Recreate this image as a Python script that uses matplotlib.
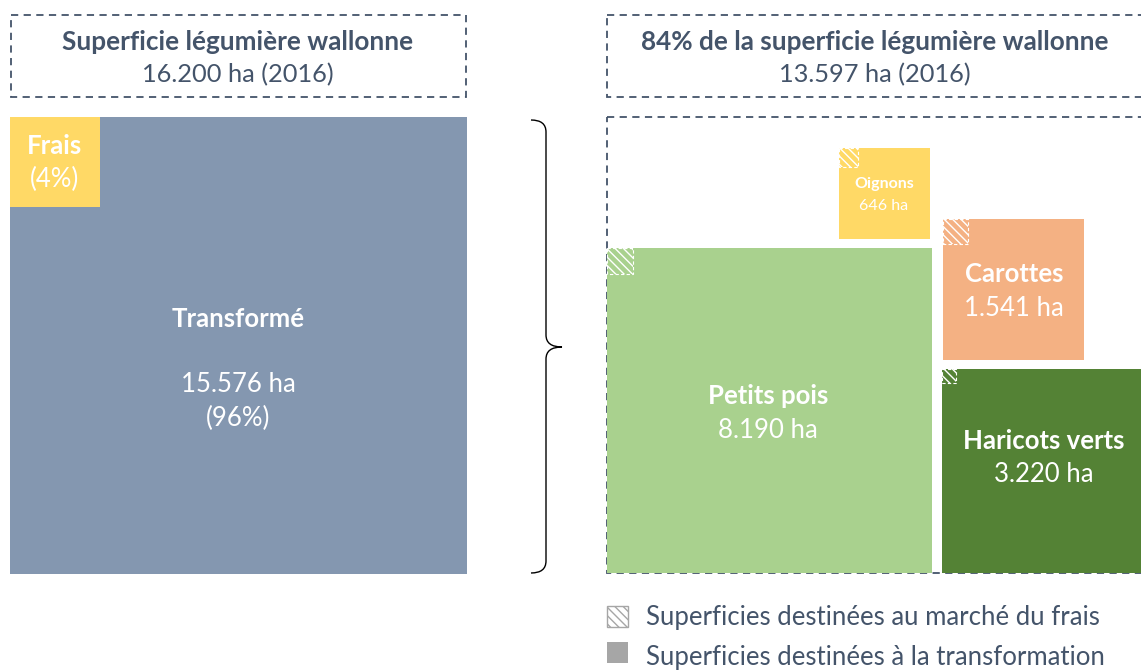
import numpy as np
import matplotlib.pyplot as plt
from matplotlib.patches import Rectangle, PathPatch
from matplotlib.path import Path

plt.rcParams['font.family'] = ['Lato', 'DejaVu Sans']
plt.rcParams['hatch.linewidth'] = 1.0

# données (ha, 2016)
total_wallonie = 16200
transforme = 15576
frais = total_wallonie - transforme
total_legumes = 13597

legumes = ['Petits pois', 'Haricots verts', 'Carottes', 'Oignons']
superficies = [8190, 3220, 1541, 646]
superficies_frais = [52, 15, 48, 28]  # estimé d'après les petits carrés hachurés
couleurs = ['#A9D18E', '#548235', '#F4B183', '#FFD966']

TXT = '#44546A'
SCALE = 457 / np.sqrt(total_wallonie)  # px par sqrt(ha)


def side(v):
    return SCALE * np.sqrt(v)


fig = plt.figure(figsize=(11.41, 6.70), dpi=100)
ax = fig.add_axes([0, 0, 1, 1])
ax.set_xlim(0, 1141)
ax.set_ylim(670, 0)
ax.axis('off')


def dashed_box(x0, y0, x1, y1):
    ax.add_patch(Rectangle((x0, y0), x1 - x0, y1 - y0, fill=False, edgecolor=TXT,
                           lw=1.3, ls=(0, (4, 3))))


def hatch_square(x, y, s):
    ax.add_patch(Rectangle((x, y), s, s, facecolor='none', edgecolor='white',
                           hatch='\\\\\\\\', lw=0, zorder=4))
    ax.add_patch(Rectangle((x, y), s, s, fill=False, edgecolor='white',
                           lw=0.8, ls=(0, (3, 2)), zorder=4))


# --- partie gauche
dashed_box(11, 15, 466, 97)
ax.text(238, 42, 'Superficie légumière wallonne', ha='center', va='center',
        fontsize=18.8, fontweight='bold', color=TXT)
ax.text(238, 75, f'{total_wallonie:,} ha (2016)'.replace(',', '.'), ha='center',
        va='center', fontsize=18.3, color=TXT)

s_tot = side(total_wallonie)
ax.add_patch(Rectangle((10, 117), s_tot, s_tot, facecolor='#8497B0', lw=0))
s_fr = side(frais)
ax.add_patch(Rectangle((10, 117), s_fr, s_fr, facecolor='#FFD966', lw=0))
pct_fr = round(100 * frais / total_wallonie)
ax.text(10 + s_fr / 2, 117 + s_fr * 0.32, 'Frais', ha='center', va='center',
        fontsize=18.5, fontweight='bold', color='white')
ax.text(10 + s_fr / 2, 117 + s_fr * 0.70, f'({pct_fr}%)', ha='center', va='center',
        fontsize=18.5, color='white')
cx = 10 + s_tot / 2
ax.text(cx, 319, 'Transformé', ha='center', va='center', fontsize=18.5,
        fontweight='bold', color='white')
ax.text(cx, 385, f'{transforme:,} ha'.replace(',', '.'), ha='center', va='center',
        fontsize=18.5, color='white')
ax.text(cx, 418, f'({100 - pct_fr}%)', ha='center', va='center', fontsize=18.5,
        color='white')

# accolade
verts = [(531, 120), (546, 120), (546, 132),
         (546, 335), (546, 347), (562, 347),
         (546, 347), (546, 359),
         (546, 561), (546, 573), (531, 573)]
codes = [Path.MOVETO, Path.CURVE3, Path.CURVE3,
         Path.LINETO, Path.CURVE3, Path.CURVE3,
         Path.CURVE3, Path.CURVE3,
         Path.LINETO, Path.CURVE3, Path.CURVE3]
ax.add_patch(PathPatch(Path(verts, codes), fill=False, edgecolor='black', lw=1))

# --- partie droite
dashed_box(607, 15, 1150, 97)
pct_leg = round(100 * total_legumes / total_wallonie)
ax.text(875, 42, f'{pct_leg}% de la superficie légumière wallonne', ha='center',
        va='center', fontsize=18.8, fontweight='bold', color=TXT)
ax.text(875, 75, f'{total_legumes:,} ha (2016)'.replace(',', '.'), ha='center',
        va='center', fontsize=18.3, color=TXT)
dashed_box(607, 117, 1150, 573)

# ancrages des carrés (coin, x, y) et position des étiquettes (cx, y nom, y valeur, taille)
ancres = {
    'Petits pois': ('bl', 607, 573),
    'Haricots verts': ('bl', 942, 573),
    'Carottes': ('tl', 943, 219),
    'Oignons': ('tr', 930, 148),
}
etiquettes = {
    'Petits pois': (768, 396, 431, 18.5),
    'Haricots verts': (1044, 441, 475, 18.5),
    'Carottes': (1014, 274, 308, 18.5),
    'Oignons': (884, 184, 206, 11.5),
}
for nom, val, vf, col in zip(legumes, superficies, superficies_frais, couleurs):
    s = side(val)
    coin, ax_x, ax_y = ancres[nom]
    x0 = ax_x - s if coin[1] == 'r' else ax_x
    y0 = ax_y - s if coin[0] == 'b' else ax_y
    ax.add_patch(Rectangle((x0, y0), s, s, facecolor=col, lw=0, zorder=2))
    hatch_square(x0, y0, side(vf))
    cx, y_nom, y_val, fs = etiquettes[nom]
    ax.text(cx, y_nom, nom, ha='center', va='center', fontsize=fs,
            fontweight='bold', color='white', zorder=5)
    ax.text(cx, y_val, f'{val:,} ha'.replace(',', '.'), ha='center',
            va='center', fontsize=fs, color='white', zorder=5)

# légende
ax.add_patch(Rectangle((607, 606), 21, 21, facecolor='white', edgecolor='#A6A6A6',
                       hatch='\\\\\\\\', lw=1))
ax.text(646, 618, 'Superficies destinées au marché du frais', ha='left',
        va='center', fontsize=18.5, color=TXT)
ax.add_patch(Rectangle((607, 642), 21, 21, facecolor='#A6A6A6', lw=0))
ax.text(646, 657, 'Superficies destinées à la transformation', ha='left',
        va='center', fontsize=18.5, color=TXT)

fig.savefig('out.png', dpi=100)
